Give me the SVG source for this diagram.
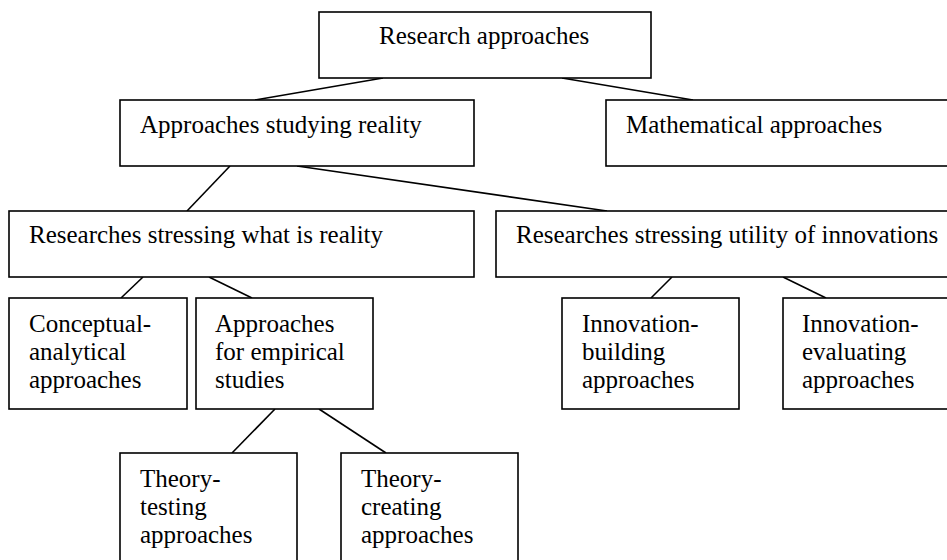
<svg xmlns="http://www.w3.org/2000/svg" width="947" height="560" viewBox="0 0 947 560">
  <style>
    rect { fill: #fff; stroke: #000; stroke-width: 1.6; }
    line { stroke: #000; stroke-width: 1.6; }
    text { font-family: "Liberation Serif", "Times New Roman", serif; font-size: 25px; fill: #000; }
  </style>
  <g id="connectors">
    <line x1="383" y1="78" x2="255" y2="100"/>
    <line x1="562" y1="78" x2="693" y2="100"/>
    <line x1="230" y1="166" x2="187" y2="211"/>
    <line x1="297" y1="166" x2="607" y2="211"/>
    <line x1="143" y1="277" x2="121" y2="298"/>
    <line x1="209" y1="277" x2="252" y2="298"/>
    <line x1="672" y1="277" x2="651" y2="298"/>
    <line x1="783" y1="277" x2="826" y2="298"/>
    <line x1="275" y1="409" x2="232" y2="453"/>
    <line x1="319" y1="409" x2="386" y2="453"/>
  </g>
  <g id="research-approaches">
    <rect x="319" y="12" width="332" height="66"/>
    <text x="379" y="44">Research approaches</text>
  </g>
  <g id="approaches-studying-reality">
    <rect x="120" y="100" width="354" height="66"/>
    <text x="140" y="133">Approaches studying reality</text>
  </g>
  <g id="mathematical-approaches">
    <rect x="606" y="100" width="360" height="66"/>
    <text x="626" y="133">Mathematical approaches</text>
  </g>
  <g id="stressing-reality">
    <rect x="9" y="211" width="465" height="66"/>
    <text x="29" y="243">Researches stressing what is reality</text>
  </g>
  <g id="stressing-utility">
    <rect x="496" y="211" width="470" height="66"/>
    <text x="516" y="243">Researches stressing utility of innovations</text>
  </g>
  <g id="conceptual-analytical">
    <rect x="9" y="298" width="178" height="111"/>
    <text x="29" y="332">Conceptual-</text>
    <text x="29" y="360">analytical</text>
    <text x="29" y="388">approaches</text>
  </g>
  <g id="empirical-studies">
    <rect x="196" y="298" width="177" height="111"/>
    <text x="215" y="332">Approaches</text>
    <text x="215" y="360">for empirical</text>
    <text x="215" y="388">studies</text>
  </g>
  <g id="innovation-building">
    <rect x="562" y="298" width="177" height="111"/>
    <text x="582" y="332">Innovation-</text>
    <text x="582" y="360">building</text>
    <text x="582" y="388">approaches</text>
  </g>
  <g id="innovation-evaluating">
    <rect x="783" y="298" width="190" height="111"/>
    <text x="802" y="332">Innovation-</text>
    <text x="802" y="360">evaluating</text>
    <text x="802" y="388">approaches</text>
  </g>
  <g id="theory-testing">
    <rect x="120" y="453" width="177" height="130"/>
    <text x="140" y="487">Theory-</text>
    <text x="140" y="515">testing</text>
    <text x="140" y="543">approaches</text>
  </g>
  <g id="theory-creating">
    <rect x="341" y="453" width="177" height="130"/>
    <text x="361" y="487">Theory-</text>
    <text x="361" y="515">creating</text>
    <text x="361" y="543">approaches</text>
  </g>
</svg>
